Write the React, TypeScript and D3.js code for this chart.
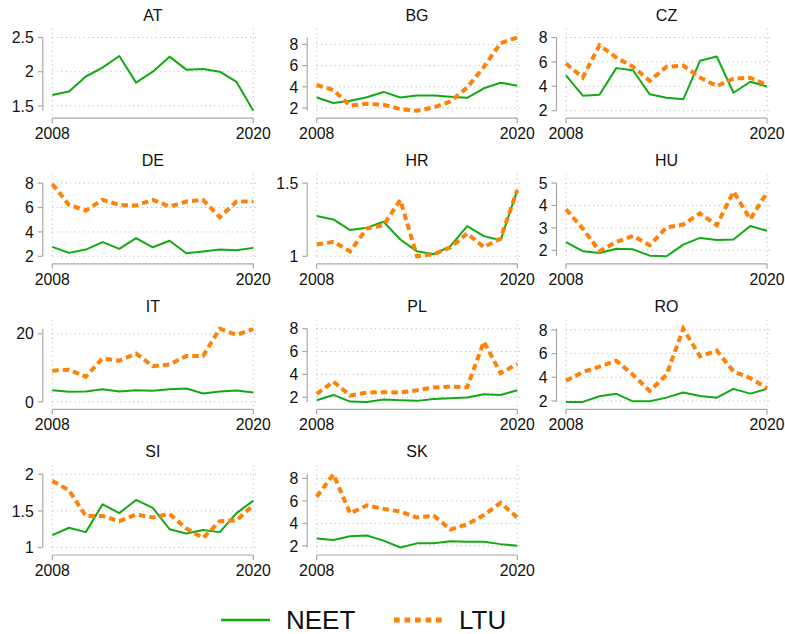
import React from "react";
import * as d3 from "d3";

// Years on the horizontal axis
const years = d3.range(2008, 2021);

// Country panels in reading order
const countries = ["AT", "BG", "CZ", "DE", "HR", "HU", "IT", "PL", "RO", "SI", "SK"];

// NEET series per country (2008–2020)
const neetAT = [1.66, 1.71, 1.93, 2.06, 2.23, 1.84, 2.0, 2.22, 2.03, 2.04, 2.0, 1.85, 1.43];
const neetBG = [3.0, 2.47, 2.68, 3.02, 3.52, 3.0, 3.18, 3.18, 3.06, 2.96, 3.86, 4.39, 4.11];
const neetCZ = [4.89, 3.23, 3.31, 5.49, 5.32, 3.34, 3.06, 2.93, 6.09, 6.44, 3.47, 4.37, 3.99];
const neetDE = [2.77, 2.28, 2.55, 3.16, 2.61, 3.49, 2.74, 3.27, 2.25, 2.39, 2.55, 2.5, 2.69];
const neetHR = [1.275, 1.252, 1.179, 1.195, 1.236, 1.115, 1.034, 1.014, 1.069, 1.206, 1.138, 1.11, 1.454];
const neetHU = [2.36, 1.96, 1.88, 2.07, 2.04, 1.76, 1.73, 2.25, 2.55, 2.46, 2.48, 3.08, 2.87];
const neetIT = [3.45, 2.96, 3.05, 3.74, 3.05, 3.45, 3.25, 3.74, 3.94, 2.46, 3.05, 3.35, 2.76];
const neetPL = [1.74, 2.2, 1.62, 1.59, 1.8, 1.74, 1.68, 1.85, 1.91, 1.97, 2.26, 2.2, 2.61];
const neetRO = [1.92, 1.92, 2.4, 2.6, 1.97, 1.97, 2.28, 2.71, 2.42, 2.28, 3.02, 2.62, 3.02];
const neetSI = [1.17, 1.27, 1.21, 1.59, 1.47, 1.65, 1.54, 1.25, 1.19, 1.24, 1.21, 1.47, 1.64];
const neetSK = [2.65, 2.52, 2.86, 2.92, 2.46, 1.85, 2.22, 2.22, 2.4, 2.37, 2.37, 2.15, 2.0];

// LTU series per country (AT has none)
const ltuBG = [4.17, 3.7, 2.22, 2.4, 2.31, 1.9, 1.75, 2.06, 2.62, 3.93, 5.88, 8.12, 8.65];
const ltuCZ = [5.87, 4.72, 7.37, 6.36, 5.6, 4.45, 5.6, 5.7, 4.72, 4.02, 4.62, 4.7, 4.1];
const ltuDE = [7.92, 6.21, 5.75, 6.63, 6.21, 6.16, 6.63, 6.08, 6.49, 6.63, 5.2, 6.49, 6.49];
const ltuHR = [1.08, 1.099, 1.034, 1.19, 1.213, 1.385, 1.0, 1.014, 1.06, 1.156, 1.062, 1.122, 1.454];
const ltuHU = [3.83, 2.97, 1.96, 2.37, 2.64, 2.22, 3.02, 3.15, 3.65, 3.12, 4.62, 3.39, 4.58];
const ltuIT = [9.16, 9.46, 7.39, 12.8, 12.1, 14.2, 10.5, 11.0, 13.5, 13.5, 21.5, 19.7, 21.4];
const ltuPL = [2.29, 3.37, 2.15, 2.41, 2.44, 2.41, 2.61, 2.85, 2.93, 2.87, 6.87, 4.1, 4.92];
const ltuRO = [3.7, 4.44, 4.89, 5.4, 4.21, 2.85, 4.21, 8.1, 5.77, 6.25, 4.49, 3.93, 3.08];
const ltuSI = [1.91, 1.78, 1.43, 1.43, 1.36, 1.45, 1.41, 1.46, 1.26, 1.13, 1.36, 1.37, 1.58];
const ltuSK = [6.37, 8.37, 4.89, 5.6, 5.29, 5.05, 4.52, 4.68, 3.45, 3.91, 4.74, 5.82, 4.52];

// Y-axis tick values per panel
const ticksAT = [1.5, 2, 2.5];
const ticksBG = [2, 4, 6, 8];
const ticksCZ = [2, 4, 6, 8];
const ticksDE = [2, 4, 6, 8];
const ticksHR = [1, 1.5];
const ticksHU = [2, 3, 4, 5];
const ticksIT = [0, 20];
const ticksPL = [2, 4, 6, 8];
const ticksRO = [2, 4, 6, 8];
const ticksSI = [1, 1.5, 2];
const ticksSK = [2, 4, 6, 8];

// X-axis tick labels
const xTicks = [2008, 2020];

// Legend entries
const legendLabels = ["NEET", "LTU"];

const neet = [neetAT, neetBG, neetCZ, neetDE, neetHR, neetHU, neetIT, neetPL, neetRO, neetSI, neetSK];
const ltu = [null, ltuBG, ltuCZ, ltuDE, ltuHR, ltuHU, ltuIT, ltuPL, ltuRO, ltuSI, ltuSK];
const yTicks = [ticksAT, ticksBG, ticksCZ, ticksDE, ticksHR, ticksHU, ticksIT, ticksPL, ticksRO, ticksSI, ticksSK];

const W = 785;
const H = 634;
const GREEN = "#13a913";
const ORANGE = "#ff8208";
const FONT = "'Liberation Sans', Arial, Helvetica, sans-serif";
const colX: [number, number][] = [[52.3, 253.3], [316.7, 517.3], [566, 767]];
const ROW_PITCH = 145.6;
const INNER_TOP = 37.5;
const INNER_BOTTOM = 110.7;
const DASH = "6.5,4";
const TICK_FONT = 15.8;
const TITLE_FONT = 16;

function Panel({ i }: { i: number }) {
  const col = i % 3;
  const row = Math.floor(i / 3);
  const [x0, x1] = colX[col];
  const yT = INNER_TOP + ROW_PITCH * row;
  const yB = INNER_BOTTOM + ROW_PITCH * row;
  const ticks = yTicks[i];
  const series = ltu[i] ? neet[i].concat(ltu[i] as number[]) : neet[i];
  const lo = Math.min(d3.min(series) as number, d3.min(ticks) as number);
  const hi = Math.max(d3.max(series) as number, d3.max(ticks) as number);
  const x = d3.scaleLinear().domain([2008, 2020]).range([x0, x1]);
  const y = d3.scaleLinear().domain([lo, hi]).range([yB, yT]);
  const line = d3
    .line<number>()
    .x((_, k) => x(years[k]))
    .y((v) => y(v));
  const axisX = x0 - 9.5;
  const axisY = yB + 7.5;
  const gridStyle = { stroke: "#b4b4b4", strokeWidth: 1, strokeDasharray: "1,3.5" };
  return (
    <g>
      <text x={(x0 + x1) / 2} y={yT - 17} textAnchor="middle" fontSize={TITLE_FONT} fill="#111">
        {countries[i]}
      </text>
      {xTicks.map((t) => (
        <line key={"vx" + t} x1={x(t)} x2={x(t)} y1={yT - 9} y2={yB + 4} {...gridStyle} />
      ))}
      {ticks.map((t) => (
        <line key={"hy" + t} x1={x0} x2={x1 + 3} y1={y(t)} y2={y(t)} {...gridStyle} />
      ))}
      {/* y axis */}
      <line x1={axisX} x2={axisX} y1={y(hi)} y2={y(lo)} stroke="#a8a8a8" strokeWidth={1.2} />
      {ticks.map((t) => (
        <g key={"yt" + t}>
          <line x1={axisX - 5} x2={axisX} y1={y(t)} y2={y(t)} stroke="#a8a8a8" strokeWidth={1.2} />
          <text x={axisX - 9} y={y(t)} dy="0.36em" textAnchor="end" fontSize={TICK_FONT} fill="#111">
            {String(t)}
          </text>
        </g>
      ))}
      {/* x axis */}
      <line x1={x0} x2={x1} y1={axisY} y2={axisY} stroke="#a8a8a8" strokeWidth={1.2} />
      {xTicks.map((t) => (
        <g key={"xt" + t}>
          <line x1={x(t)} x2={x(t)} y1={axisY} y2={axisY + 5} stroke="#a8a8a8" strokeWidth={1.2} />
          <text x={x(t)} y={axisY + 21} textAnchor="middle" fontSize={TICK_FONT} fill="#111">
            {String(t)}
          </text>
        </g>
      ))}
      <path d={line(neet[i]) || ""} fill="none" stroke={GREEN} strokeWidth={2} strokeLinejoin="round" />
      {ltu[i] && (
        <path
          d={line(ltu[i] as number[]) || ""}
          fill="none"
          stroke={ORANGE}
          strokeWidth={4}
          strokeDasharray={DASH}
        />
      )}
    </g>
  );
}

export default function App() {
  return (
    <svg
      width={W}
      height={H}
      style={{ position: "absolute", left: 0, top: 0, background: "#fff" }}
      fontFamily={FONT}
    >
      <rect width={W} height={H} fill="#fff" />
      {countries.map((_, i) => (
        <Panel key={i} i={i} />
      ))}
      <g>
        <line x1={221} x2={270} y1={620} y2={620} stroke={GREEN} strokeWidth={2.5} />
        <text x={286} y={628.5} fontSize={26} fill="#111">
          {legendLabels[0]}
        </text>
        <line x1={394} x2={442} y1={620} y2={620} stroke={ORANGE} strokeWidth={5} strokeDasharray="5.7,4.8" />
        <text x={459} y={628.5} fontSize={26} fill="#111">
          {legendLabels[1]}
        </text>
      </g>
    </svg>
  );
}
